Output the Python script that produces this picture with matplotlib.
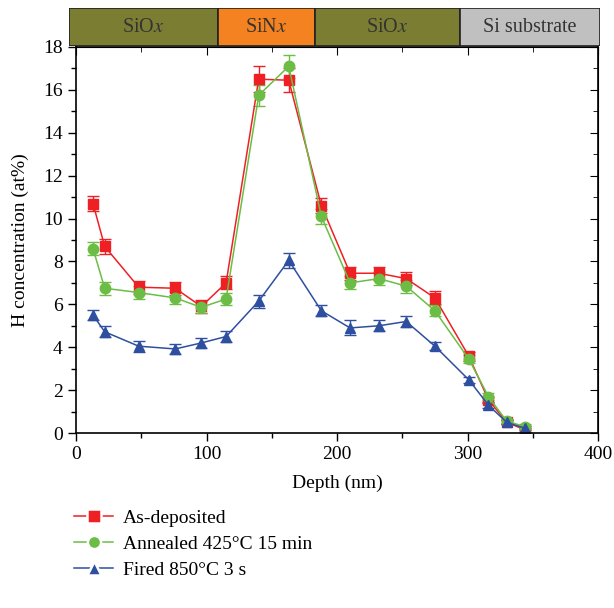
import matplotlib.pyplot as plt
from matplotlib.lines import Line2D

plt.rcParams["font.family"] = ["Liberation Serif", "DejaVu Serif"]
plt.rcParams["mathtext.fontset"] = "stix"

# depth (nm)
depth = [13, 22, 48, 76, 96, 115, 140, 163, 188, 210, 232, 253, 275, 301, 316, 330, 344]

as_dep = [10.7, 8.7, 6.8, 6.75, 5.9, 7.0, 16.5, 16.45, 10.6, 7.45, 7.45, 7.2, 6.3, 3.58, 1.55, 0.5, 0.15]
as_dep_err = [0.35, 0.35, 0.3, 0.3, 0.3, 0.3, 0.6, 0.55, 0.35, 0.3, 0.3, 0.3, 0.3, 0.2, 0.15, 0.1, 0.1]

annealed = [8.6, 6.75, 6.55, 6.3, 5.86, 6.25, 15.75, 17.1, 10.1, 7.0, 7.2, 6.85, 5.7, 3.45, 1.7, 0.55, 0.3]
annealed_err = [0.3, 0.3, 0.3, 0.3, 0.25, 0.3, 0.5, 0.55, 0.35, 0.3, 0.3, 0.3, 0.25, 0.2, 0.15, 0.1, 0.1]

fired = [5.5, 4.72, 4.05, 3.92, 4.2, 4.5, 6.15, 8.05, 5.7, 4.9, 5.0, 5.2, 4.05, 2.48, 1.3, 0.5, 0.22]
fired_err = [0.25, 0.25, 0.25, 0.25, 0.25, 0.25, 0.3, 0.35, 0.25, 0.35, 0.25, 0.25, 0.2, 0.15, 0.15, 0.1, 0.1]

# layer stack (nm)
layer_names = ["SiO$x$", "SiN$x$", "SiO$x$", "Si substrate"]
layer_edges = [-5, 109, 183, 294, 401]
layer_colors = ["#7a7d32", "#f58220", "#7a7d32", "#c0c0c0"]

fig = plt.figure(figsize=(6.14, 6.08), dpi=100)
ax = fig.add_axes([0.1238, 0.2878, 0.8502, 0.6349])

series = [
    (as_dep, as_dep_err, "#ee2024", "s", "As-deposited"),
    (annealed, annealed_err, "#6bbd45", "o", "Annealed 425°C 15 min"),
    (fired, fired_err, "#2e4f9f", "^", "Fired 850°C 3 s"),
]
handles = []
for vals, err, col, mk, lab in series:
    ax.errorbar(depth, vals, yerr=err, color=col, marker=mk, markersize=7.5,
                lw=1.1, capsize=4, elinewidth=1, capthick=1)
    handles.append(Line2D([], [], color=col, marker=mk, markersize=9.5,
                          markeredgecolor="white", markeredgewidth=1.8,
                          lw=1.1, label=lab))

ax.set_xlim(0, 400)
ax.set_ylim(0, 18)
ax.set_xticks(range(0, 401, 100))
ax.set_xticks(range(0, 401, 50), minor=True)
ax.set_yticks(range(0, 19, 2))
ax.set_yticks(range(0, 19, 1), minor=True)
ax.tick_params(which="both", direction="out", labelsize=14, width=1)
ax.tick_params(which="major", length=6)
ax.tick_params(which="minor", length=3.5)
for sp in ax.spines.values():
    sp.set_linewidth(1.2)

# inward ticks on top and right
top = ax.secondary_xaxis("top")
top.set_xticks(range(0, 401, 100))
top.set_xticks(range(0, 401, 50), minor=True)
top.tick_params(which="both", direction="in", labeltop=False)
top.tick_params(which="major", length=6)
top.tick_params(which="minor", length=3.5)
right = ax.secondary_yaxis("right")
right.set_yticks(range(0, 19, 2))
right.set_yticks(range(0, 19, 1), minor=True)
right.tick_params(which="both", direction="in", labelright=False)
right.tick_params(which="major", length=6)
right.tick_params(which="minor", length=3.5)

ax.set_xlabel("Depth (nm)", fontsize=14, labelpad=8)
ax.set_ylabel("H concentration (at%)", fontsize=14, labelpad=10)

# layer bar
bar = fig.add_axes([0.1124, 0.9243, 0.8648, 0.0625])
for i, name in enumerate(layer_names):
    x0, x1 = layer_edges[i], layer_edges[i + 1]
    bar.barh(0, x1 - x0, left=x0, height=1, color=layer_colors[i],
             edgecolor="#222222", lw=1.2)
    bar.text((x0 + x1) / 2, 0, name, ha="center", va="center",
             fontsize=14.5, color="#333333")
bar.set_xlim(layer_edges[0], layer_edges[-1])
bar.set_ylim(-0.5, 0.5)
bar.axis("off")

fig.legend(handles=handles, loc="upper left", bbox_to_anchor=(0.108, 0.175),
           frameon=False, fontsize=14, handlelength=2.0, labelspacing=0.42,
           handletextpad=0.5, borderaxespad=0)

plt.savefig("out.png", dpi=100)
plt.close()
